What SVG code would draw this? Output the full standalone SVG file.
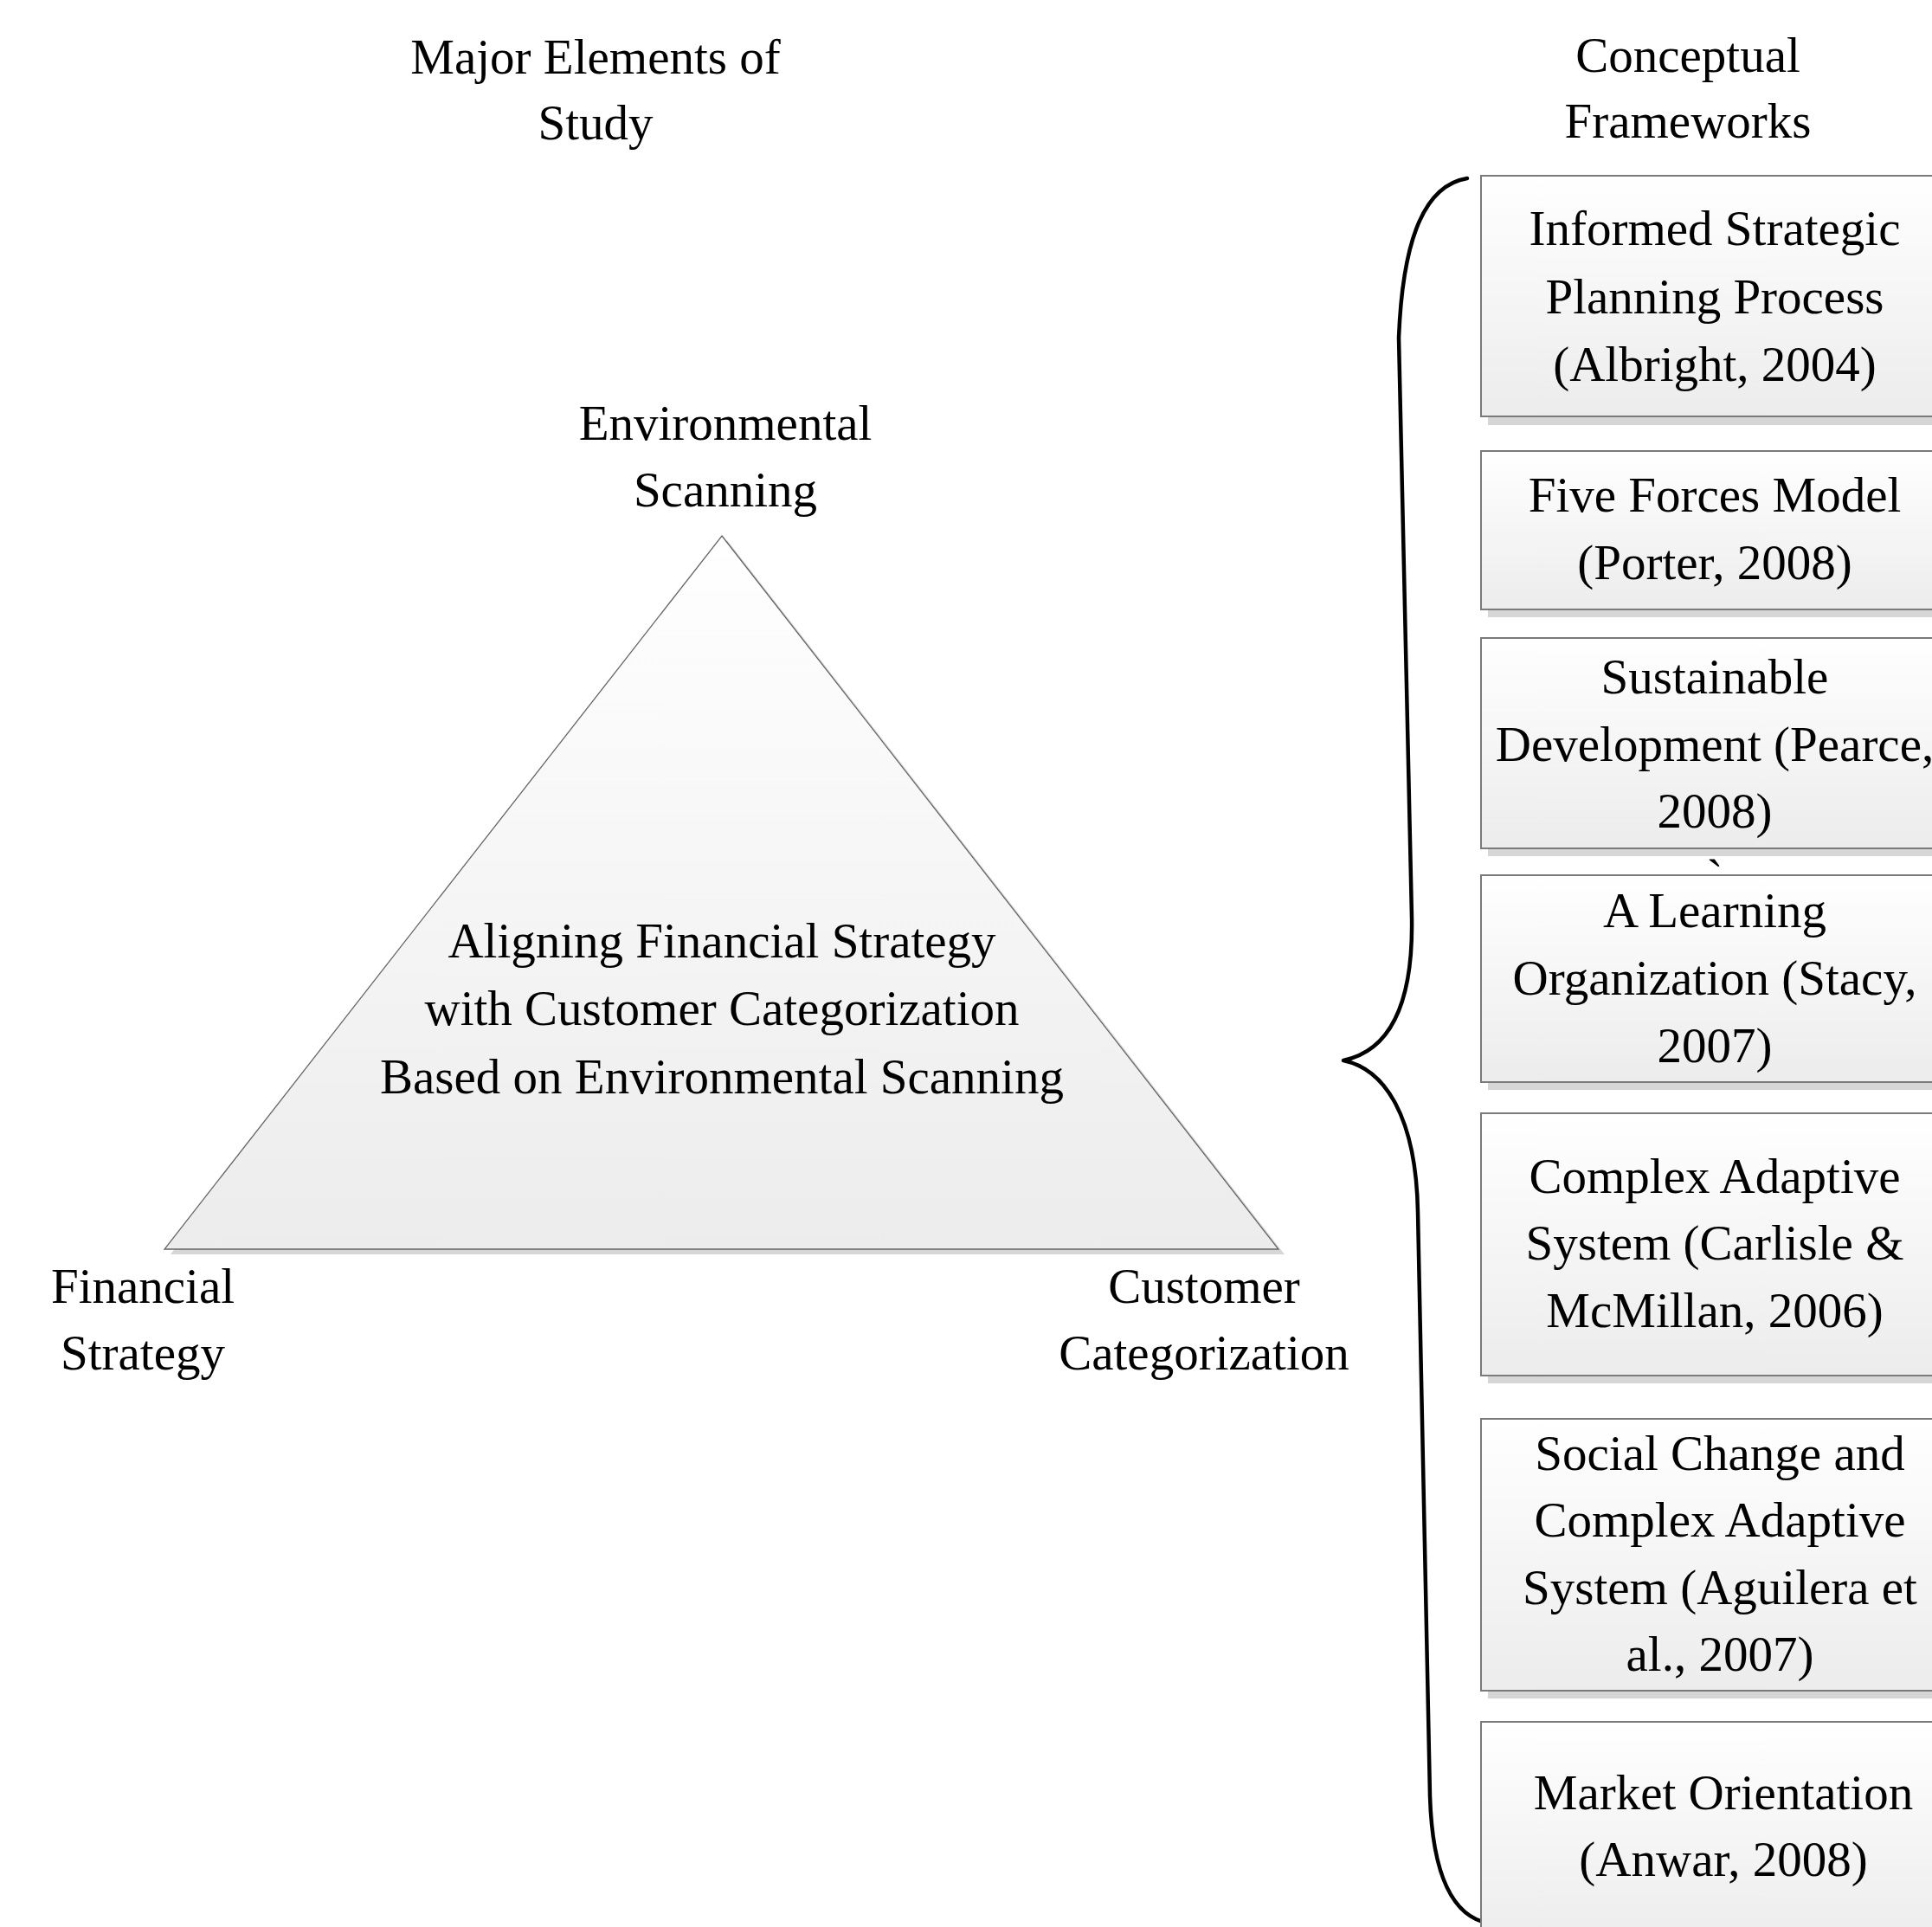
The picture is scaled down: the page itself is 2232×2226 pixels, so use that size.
<svg xmlns="http://www.w3.org/2000/svg" width="2232" height="2226" viewBox="0 0 2232 2226">
<defs>
<linearGradient id="gBox" x1="0" y1="0" x2="0" y2="1">
<stop offset="0" stop-color="#ffffff"/>
<stop offset="1" stop-color="#ececec"/>
</linearGradient>
<linearGradient id="gTri" x1="0" y1="0" x2="0" y2="1">
<stop offset="0" stop-color="#ffffff"/>
<stop offset="1" stop-color="#ececec"/>
</linearGradient>
<style>
text{font-family:"Liberation Serif","Times New Roman",serif;font-size:57px;fill:#000;text-anchor:middle}
.box{fill:url(#gBox);stroke:#7a7a7a;stroke-width:2}
.shadow{fill:#d6d6d6}
.tri{fill:url(#gTri);stroke:#666;stroke-width:1.3}
.brace{fill:none;stroke:#000;stroke-width:4.5;stroke-linecap:round;stroke-linejoin:round}
</style>
</defs>
<rect width="2232" height="2226" fill="#fff"/>

<g id="title-left">
<text x="688" y="85">Major Elements of</text>
<text x="688" y="161">Study</text>
</g>
<g id="title-right">
<text x="1950" y="83">Conceptual</text>
<text x="1950" y="159">Frameworks</text>
</g>

<g id="triangle">
<polygon class="shadow" points="840,624 1484,1449 197,1449"/>
<polygon class="tri" points="834,619 1477,1443 190,1443"/>
<text x="834" y="1106">Aligning Financial Strategy</text>
<text x="834" y="1184">with Customer Categorization</text>
<text x="834" y="1263">Based on Environmental Scanning</text>
</g>
<g id="label-env">
<text x="838" y="508">Environmental</text>
<text x="838" y="585">Scanning</text>
</g>
<g id="label-fin">
<text x="165" y="1505">Financial</text>
<text x="165" y="1582">Strategy</text>
</g>
<g id="label-cust">
<text x="1391" y="1505">Customer</text>
<text x="1391" y="1582">Categorization</text>
</g>

<g id="connectors">
<path class="brace" d="M1695,206 C1640,215 1620,290 1616,390 L1631,1060 C1633,1170 1600,1215 1552,1225 C1600,1235 1636,1290 1638,1400 L1652,2075 C1655,2170 1680,2215 1721,2222"/>
</g>

<g id="box1">
<rect class="shadow" x="1719" y="212" width="540" height="279"/>
<rect class="box" x="1711" y="203" width="540" height="278"/>
<text x="1981" y="283">Informed Strategic</text>
<text x="1981" y="362">Planning Process</text>
<text x="1981" y="440">(Albright, 2004)</text>
</g>
<g id="box2">
<rect class="shadow" x="1719" y="530" width="540" height="183"/>
<rect class="box" x="1711" y="521" width="540" height="183"/>
<text x="1981" y="591">Five Forces Model</text>
<text x="1981" y="669">(Porter, 2008)</text>
</g>
<g id="box3">
<rect class="shadow" x="1719" y="746" width="540" height="243"/>
<rect class="box" x="1711" y="737" width="540" height="243"/>
<text x="1981" y="801">Sustainable</text>
<text x="1981" y="879">Development (Pearce,</text>
<text x="1981" y="956">2008)</text>
</g>
<text id="tick" x="1981" y="1032">`</text>
<g id="box4">
<rect class="shadow" x="1719" y="1020" width="540" height="239"/>
<rect class="box" x="1711" y="1011" width="540" height="239"/>
<text x="1981" y="1071">A Learning</text>
<text x="1981" y="1149">Organization (Stacy,</text>
<text x="1981" y="1227">2007)</text>
</g>
<g id="box5">
<rect class="shadow" x="1719" y="1295" width="540" height="303"/>
<rect class="box" x="1711" y="1286" width="540" height="303"/>
<text x="1981" y="1378">Complex Adaptive</text>
<text x="1981" y="1455">System (Carlisle &amp;</text>
<text x="1981" y="1533">McMillan, 2006)</text>
</g>
<g id="box6">
<rect class="shadow" x="1719" y="1648" width="540" height="314"/>
<rect class="box" x="1711" y="1639" width="540" height="314"/>
<text x="1987" y="1698">Social Change and</text>
<text x="1987" y="1775">Complex Adaptive</text>
<text x="1987" y="1853">System (Aguilera et</text>
<text x="1987" y="1930">al., 2007)</text>
</g>
<g id="box7">
<rect class="shadow" x="1719" y="1998" width="540" height="260"/>
<rect class="box" x="1711" y="1989" width="540" height="260"/>
<text x="1991" y="2090">Market Orientation</text>
<text x="1991" y="2167">(Anwar, 2008)</text>
</g>
</svg>
